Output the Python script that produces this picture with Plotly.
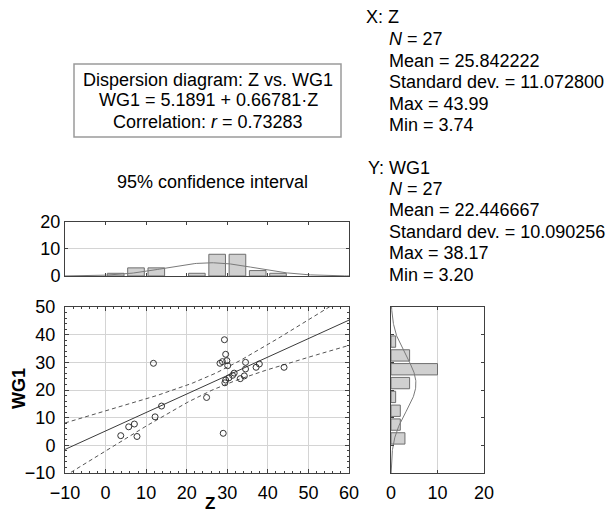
import numpy as np
import plotly.graph_objects as go

# ---- data ----
Z = [11.8, 29.3, 29.6, 28.2, 28.8, 29.9, 30.1, 34.5, 34.5, 37.1, 37.9, 43.99, 31.7, 31.3,
     30.4, 29.6, 29.4, 33.2, 34.2, 24.9, 13.8, 12.2, 7.1, 5.7, 3.74, 7.75, 29.0]
WG1 = [29.65, 38.17, 32.9, 29.65, 30.25, 30.6, 28.8, 30.0, 27.6, 28.2, 29.4, 28.2, 26.1, 25.3,
       24.4, 23.6, 22.6, 24.1, 25.1, 17.3, 14.2, 10.3, 7.7, 6.7, 3.5, 3.2, 4.35]
INTERCEPT = 5.1891
SLOPE = 0.66781
T_975 = 2.0595  # t quantile, 25 df
BIN = 5

box_lines = ["Dispersion diagram: Z vs. WG1", "WG1 = 5.1891 + 0.66781\u00b7Z",
             "Correlation: <i>r</i> = 0.73283"]
x_stats = ["<i>N</i> = 27", "Mean = 25.842222", "Standard dev. = 11.072800", "Max = 43.99", "Min = 3.74"]
y_stats = ["<i>N</i> = 27", "Mean = 22.446667", "Standard dev. = 10.090256", "Max = 38.17", "Min = 3.20"]

FONT = "Liberation Sans, Arial, sans-serif"
FS = 18
W, H = 615, 515
def px(x): return x / W
def py(y): return 1 - y / H

x = np.array(Z); y = np.array(WG1); n = len(x)
mx = x.mean(); sxx = ((x - mx) ** 2).sum()
resid = y - (INTERCEPT + SLOPE * x)
se = np.sqrt((resid ** 2).sum() / (n - 2))
xs = np.linspace(-10, 60, 141)
yhat = INTERCEPT + SLOPE * xs
half = T_975 * se * np.sqrt(1 / n + (xs - mx) ** 2 / sxx)

fig = go.Figure()
fig.add_trace(go.Scatter(x=xs, y=yhat, mode="lines", line=dict(color="#3a3a3a", width=1), xaxis="x", yaxis="y"))
fig.add_trace(go.Scatter(x=xs, y=yhat + half, mode="lines", line=dict(color="#555", width=1, dash="4px,3px"), xaxis="x", yaxis="y"))
fig.add_trace(go.Scatter(x=xs, y=yhat - half, mode="lines", line=dict(color="#555", width=1, dash="4px,3px"), xaxis="x", yaxis="y"))
fig.add_trace(go.Scatter(x=Z, y=WG1, mode="markers",
                         marker=dict(symbol="circle-open", size=6, color="#333", line=dict(width=1)),
                         xaxis="x", yaxis="y"))

# top histogram (Z)
fig.add_trace(go.Histogram(x=Z, xbins=dict(start=0, end=45, size=BIN), autobinx=False,
                           marker=dict(color="#d0d0d0", line=dict(color="#6e6e6e", width=1)),
                           xaxis="x2", yaxis="y2"))
sx = x.std(ddof=1); sy = y.std(ddof=1); my = y.mean()
gx = np.linspace(-10, 60, 200)
fig.add_trace(go.Scatter(x=gx, y=n * BIN * np.exp(-0.5 * ((gx - mx) / sx) ** 2) / (sx * np.sqrt(2 * np.pi)),
                         mode="lines", line=dict(color="#7a7a7a", width=1), xaxis="x2", yaxis="y2"))
# right histogram (WG1)
fig.add_trace(go.Histogram(y=WG1, ybins=dict(start=0, end=40, size=BIN), autobiny=False,
                           marker=dict(color="#d0d0d0", line=dict(color="#6e6e6e", width=1)),
                           xaxis="x3", yaxis="y3"))
gy = np.linspace(-10, 50, 200)
fig.add_trace(go.Scatter(y=gy, x=n * BIN * np.exp(-0.5 * ((gy - my) / sy) ** 2) / (sy * np.sqrt(2 * np.pi)),
                         mode="lines", line=dict(color="#7a7a7a", width=1), xaxis="x3", yaxis="y3"))

frame = dict(showline=True, mirror="ticks", linecolor="#404040", linewidth=1, zeroline=False,
             automargin=False, tickfont=dict(family=FONT, size=FS, color="black"), tickcolor="#404040")
dom_x = [px(65), px(349)]
dom_y = [py(473), py(307)]
fig.update_layout(
    width=W, height=H, margin=dict(l=0, r=0, t=0, b=0), showlegend=False,
    plot_bgcolor="white", paper_bgcolor="white", bargap=0.18,
    font=dict(family=FONT, size=FS, color="black"),
    xaxis=dict(domain=dom_x, range=[-10, 60], dtick=10, ticks="inside", ticklen=4, ticklabelstandoff=3,
               showgrid=True, gridcolor="#d4d4d4", anchor="y",
               minor=dict(ticks="inside", ticklen=2, dtick=2, tickcolor="#404040"), **frame),
    yaxis=dict(domain=dom_y, range=[-10, 50], dtick=10, ticks="inside", ticklen=4, ticklabelstandoff=5,
               showgrid=True, gridcolor="#d4d4d4", anchor="x",
               minor=dict(ticks="inside", ticklen=2, dtick=2, tickcolor="#404040"), **frame),
    xaxis2=dict(domain=dom_x, range=[-10, 60], dtick=10, ticks="inside", ticklen=3,
                showticklabels=False, showgrid=False, anchor="y2", **frame),
    yaxis2=dict(domain=[py(276), py(221.7)], range=[0, 20], dtick=10, ticks="inside", ticklen=3,
                showgrid=True, gridcolor="#d4d4d4", anchor="x2", **frame),
    xaxis3=dict(domain=[px(391), px(484)], range=[0, 20], dtick=10, ticks="inside", ticklen=3, ticklabelstandoff=3,
                showgrid=True, gridcolor="#d4d4d4", anchor="y3", **frame),
    yaxis3=dict(domain=dom_y, range=[-10, 50], dtick=10, ticks="inside", ticklen=3,
                showticklabels=False, showgrid=False, anchor="x3", **frame),
)

# frame around the equation box
fig.add_shape(type="rect", xref="paper", yref="paper", x0=px(74), x1=px(341), y0=py(137), y1=py(64),
              line=dict(color="#9a9a9a", width=1.5), fillcolor="rgba(0,0,0,0)")

ann = []
def txt(t, xx, yy, anchor="left", **kw):
    ann.append(dict(x=px(xx), y=py(yy), xref="paper", yref="paper", xanchor=anchor, yanchor="middle",
                    text=t, showarrow=False, font=dict(family=FONT, size=FS, color="black"), **kw))
for i, t in enumerate(box_lines):
    txt(t, 208, 79.5 + i * 21, anchor="center")
txt("95% confidence interval", 212, 182, anchor="center")
txt("X: Z", 364, 17)
for i, t in enumerate(x_stats):
    txt(t, 387, 39 + i * 21.6)
txt("Y: WG1", 366, 168)
for i, t in enumerate(y_stats):
    txt(t, 387, 189 + i * 21.4)
ann.append(dict(x=px(210), y=0, xref="paper", yref="paper", xanchor="center", yanchor="bottom",
                text="<b>Z</b>", showarrow=False, font=dict(family=FONT, size=17, color="black")))
txt("<b>WG1</b>", 19, 389, anchor="center", textangle=-90)
fig.update_layout(annotations=ann)

fig.write_html("out.html", config={"displayModeBar": False},
               post_script="document.body.style.margin='0px';")
